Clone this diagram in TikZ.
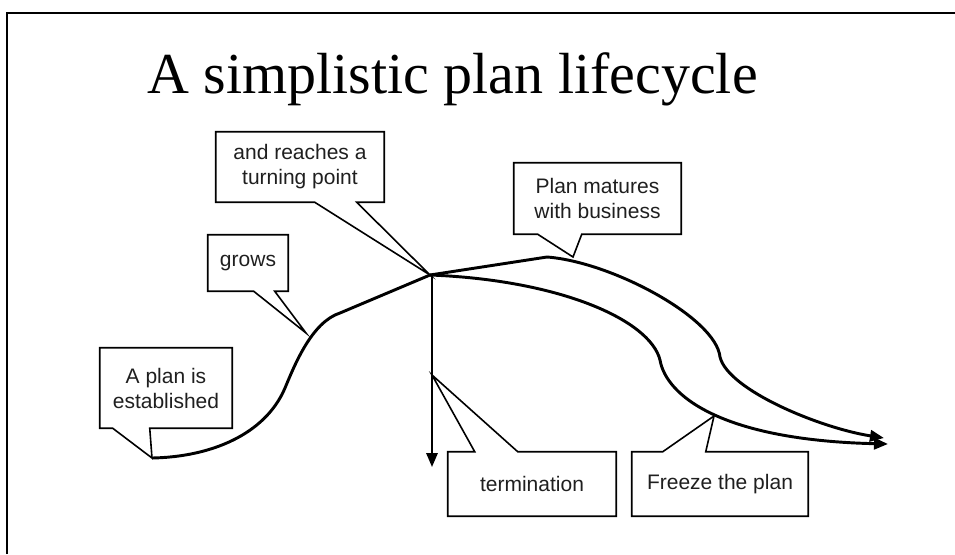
\documentclass[tikz,border=0pt]{standalone}
\usepackage{fontspec}
\setmainfont{Liberation Sans}
\newfontfamily\titlefont{Liberation Serif}
\usetikzlibrary{arrows.meta,calc}

\begin{document}
\begin{tikzpicture}[x=0.75pt,y=-0.75pt,
  bubble/.style={inner sep=0pt, align=center, text=black!88,
    font=\fontsize{15.75pt}{18.75pt}\selectfont},
  outline/.style={draw=black, line width=1.2pt, line join=miter},
  lifeline/.style={draw=black, line width=2.2pt},
  tip/.style={-{Triangle[length=10.5pt,width=8.5pt]}},
]
\useasboundingbox (0,0) rectangle (955,554);

% slide frame (top and left edges)
\draw[line width=2pt] (7,554) -- (7,13) -- (955,13);

% title
\node[anchor=base west, inner sep=0pt, font=\titlefont\fontsize{43.5pt}{50pt}\selectfont]
  (title) at (147,93) {A simplistic plan lifecycle};

% key points of the lifecycle
\coordinate (born)   at (152,458);
\coordinate (grow)   at (306,333);
\coordinate (hub)    at (430,275);
\coordinate (knee)   at (547,257);
\coordinate (mature) at (573,257);
\coordinate (stop)   at (432,375);
\coordinate (stopend) at (432,467);
\coordinate (freeze) at (714,416);
\coordinate (endA)   at (884,438);
\coordinate (endB)   at (888,444);

% growth curve up to the turning point
\draw[lifeline] (born) .. controls (210,457) and (265,435) .. (285,388)
  .. controls (295,364) and (312,322) .. (340,313) -- (hub);

% maturing branch
\draw[lifeline, tip] (hub) -- (knee) .. controls (612,262) and (716,318) .. (720,357)
  .. controls (728,390) and (820,428) .. (endA);

% frozen branch
\draw[lifeline, tip] (hub) .. controls (560,280) and (650,320) .. (660,360)
  .. controls (666,395) and (720,440) .. (endB);

% termination
\draw[line width=1.6pt, tip] (432,275) -- (stopend);

% callouts
\node[bubble, minimum width=99pt, minimum height=60pt] (est) at (166,388) {A plan is\\established};
\draw[outline] (est.north west) -- (est.north east) -- (est.south east)
  -- ($(est.south west)+(50,0)$) -- (born) -- ($(est.south west)+(13,0)$)
  -- (est.south west) -- cycle;

\node[bubble, minimum width=60pt, minimum height=42pt] (grows) at (248,263) {grows};
\draw[outline] (grows.north west) -- (grows.north east) -- (grows.south east)
  -- ($(grows.south west)+(67,0)$) -- (grow) -- ($(grows.south west)+(46,0)$)
  -- (grows.south west) -- cycle;

\node[bubble, minimum width=126pt, minimum height=52.5pt] (turn) at (300,167) {and reaches a\\turning point};
\draw[outline] (turn.north west) -- (turn.north east) -- (turn.south east)
  -- ($(turn.south west)+(141,0)$) -- (hub) -- ($(turn.south west)+(99,0)$)
  -- (turn.south west) -- cycle;

\node[bubble, minimum width=125.25pt, minimum height=53.25pt] (mat) at (597.5,198.5) {Plan matures\\with business};
\draw[outline] (mat.north west) -- (mat.north east) -- (mat.south east)
  -- ($(mat.south west)+(68,0)$) -- (mature) -- ($(mat.south west)+(24,0)$)
  -- (mat.south west) -- cycle;

\node[bubble, minimum width=126pt, minimum height=48pt] (term) at (532,484) {termination};
\draw[outline] (term.south west) -- (term.south east) -- (term.north east)
  -- ($(term.north west)+(70,0)$) -- (stop) -- ($(term.north west)+(27,0)$)
  -- (term.north west) -- cycle;

\node[bubble, minimum width=132pt, minimum height=48pt] (frz) at (720,484) {Freeze the plan};
\draw[outline] (frz.south west) -- (frz.south east) -- (frz.north east)
  -- ($(frz.north west)+(74,0)$) -- (freeze) -- ($(frz.north west)+(31,0)$)
  -- (frz.north west) -- cycle;
\end{tikzpicture}
\end{document}
